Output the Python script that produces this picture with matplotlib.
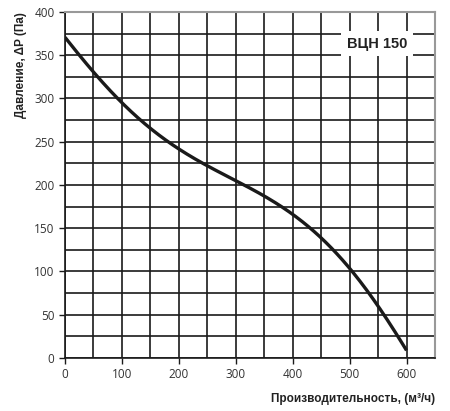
import matplotlib
matplotlib.use("Agg")
import matplotlib.pyplot as plt
import numpy as np

# flow rate (m3/h) vs pressure (Pa)
flow = [0, 50, 100, 150, 200, 250, 300, 350, 400, 450, 500, 550, 600]
pressure = [371, 329, 298, 264, 240, 223, 207, 186, 165, 139, 105, 59, 9]

xticks = [0, 100, 200, 300, 400, 500, 600]
yticks = [0, 50, 100, 150, 200, 250, 300, 350, 400]

fig = plt.figure(figsize=(4.5, 4.11), dpi=100)
ax = fig.add_axes([0.1444, 0.129, 0.8222, 0.842])

# smooth curve through the read points
xs = np.linspace(0, 600, 300)
coef = np.polyfit(flow, pressure, 6)
ax.plot(xs, np.polyval(coef, xs), color="#1a1a1a", lw=2.4, zorder=3, solid_capstyle="butt")

ax.set_xlim(0, 650)
ax.set_ylim(0, 400)
ax.set_xticks(xticks)
ax.set_yticks(yticks)
ax.set_xticks(np.arange(0, 651, 50), minor=True)
ax.set_yticks(np.arange(0, 401, 25), minor=True)
ax.grid(which="both", color="#1a1a1a", lw=1.2)
ax.tick_params(which="minor", length=0)
ax.tick_params(which="major", length=4, width=1, color="#1a1a1a",
               labelsize=8.5, labelcolor="#333333")
for lbl in ax.get_xticklabels() + ax.get_yticklabels():
    lbl.set_fontfamily("Open Sans")

for s in ["left", "bottom"]:
    ax.spines[s].set_color("#1a1a1a")
    ax.spines[s].set_linewidth(1.2)
for s in ["top", "right"]:
    ax.spines[s].set_color("#999999")
    ax.spines[s].set_linewidth(1.5)

ax.set_ylabel("Давление, ΔP (Па)", fontsize=8.5, fontweight="bold",
              family="Liberation Sans", color="#222222", labelpad=5, loc="top")
ax.set_xlabel("Производительность, (м³/ч)", fontsize=8.5, fontweight="bold",
              family="Liberation Sans", color="#222222", labelpad=8, loc="right")

ax.text(548, 363, "ВЦН 150", fontsize=10.5, fontweight="bold", family="Liberation Sans",
        color="#222222", ha="center", va="center", zorder=4,
        bbox=dict(facecolor="white", edgecolor="none", pad=4))

plt.savefig("out.png", dpi=100)
